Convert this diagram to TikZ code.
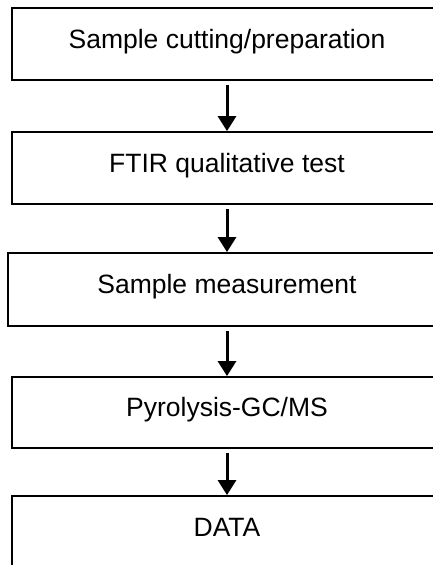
\documentclass[tikz,border=0pt]{standalone}
\usepackage{fontspec}
\setmainfont{Liberation Sans}
\usetikzlibrary{arrows.meta}
\begin{document}
\begin{tikzpicture}[x=1pt,y=-1pt,
  stepbox/.style={draw=black, line width=1.8pt, fill=white, rectangle, inner sep=0pt,
    minimum width=430pt, minimum height=72pt, text height=19pt, text depth=11pt,
    font=\fontsize{26.5}{30}\selectfont},
  flowarrow/.style={line width=3pt, -{Triangle[length=15pt,width=18pt]}, shorten <=4pt}]
\useasboundingbox (0,0) rectangle (433,565);
\clip (0,0) rectangle (433,565);
\node[stepbox] (b1) at (227,44) {Sample cutting/preparation};
\node[stepbox] (b2) at (227,168) {FTIR qualitative test};
\node[stepbox, minimum width=438pt, minimum height=73pt] (b3) at (227,289.5) {Sample measurement};
\node[stepbox, minimum height=71pt] (b4) at (227,412.5) {Pyrolysis-GC/MS};
\node[stepbox] (b5) at (227,532) {DATA};
\draw[flowarrow] (b1.south) -- (b2.north);
\draw[flowarrow] (b2.south) -- (b3.north);
\draw[flowarrow] (b3.south) -- (b4.north);
\draw[flowarrow] (b4.south) -- (b5.north);
\end{tikzpicture}
\end{document}
